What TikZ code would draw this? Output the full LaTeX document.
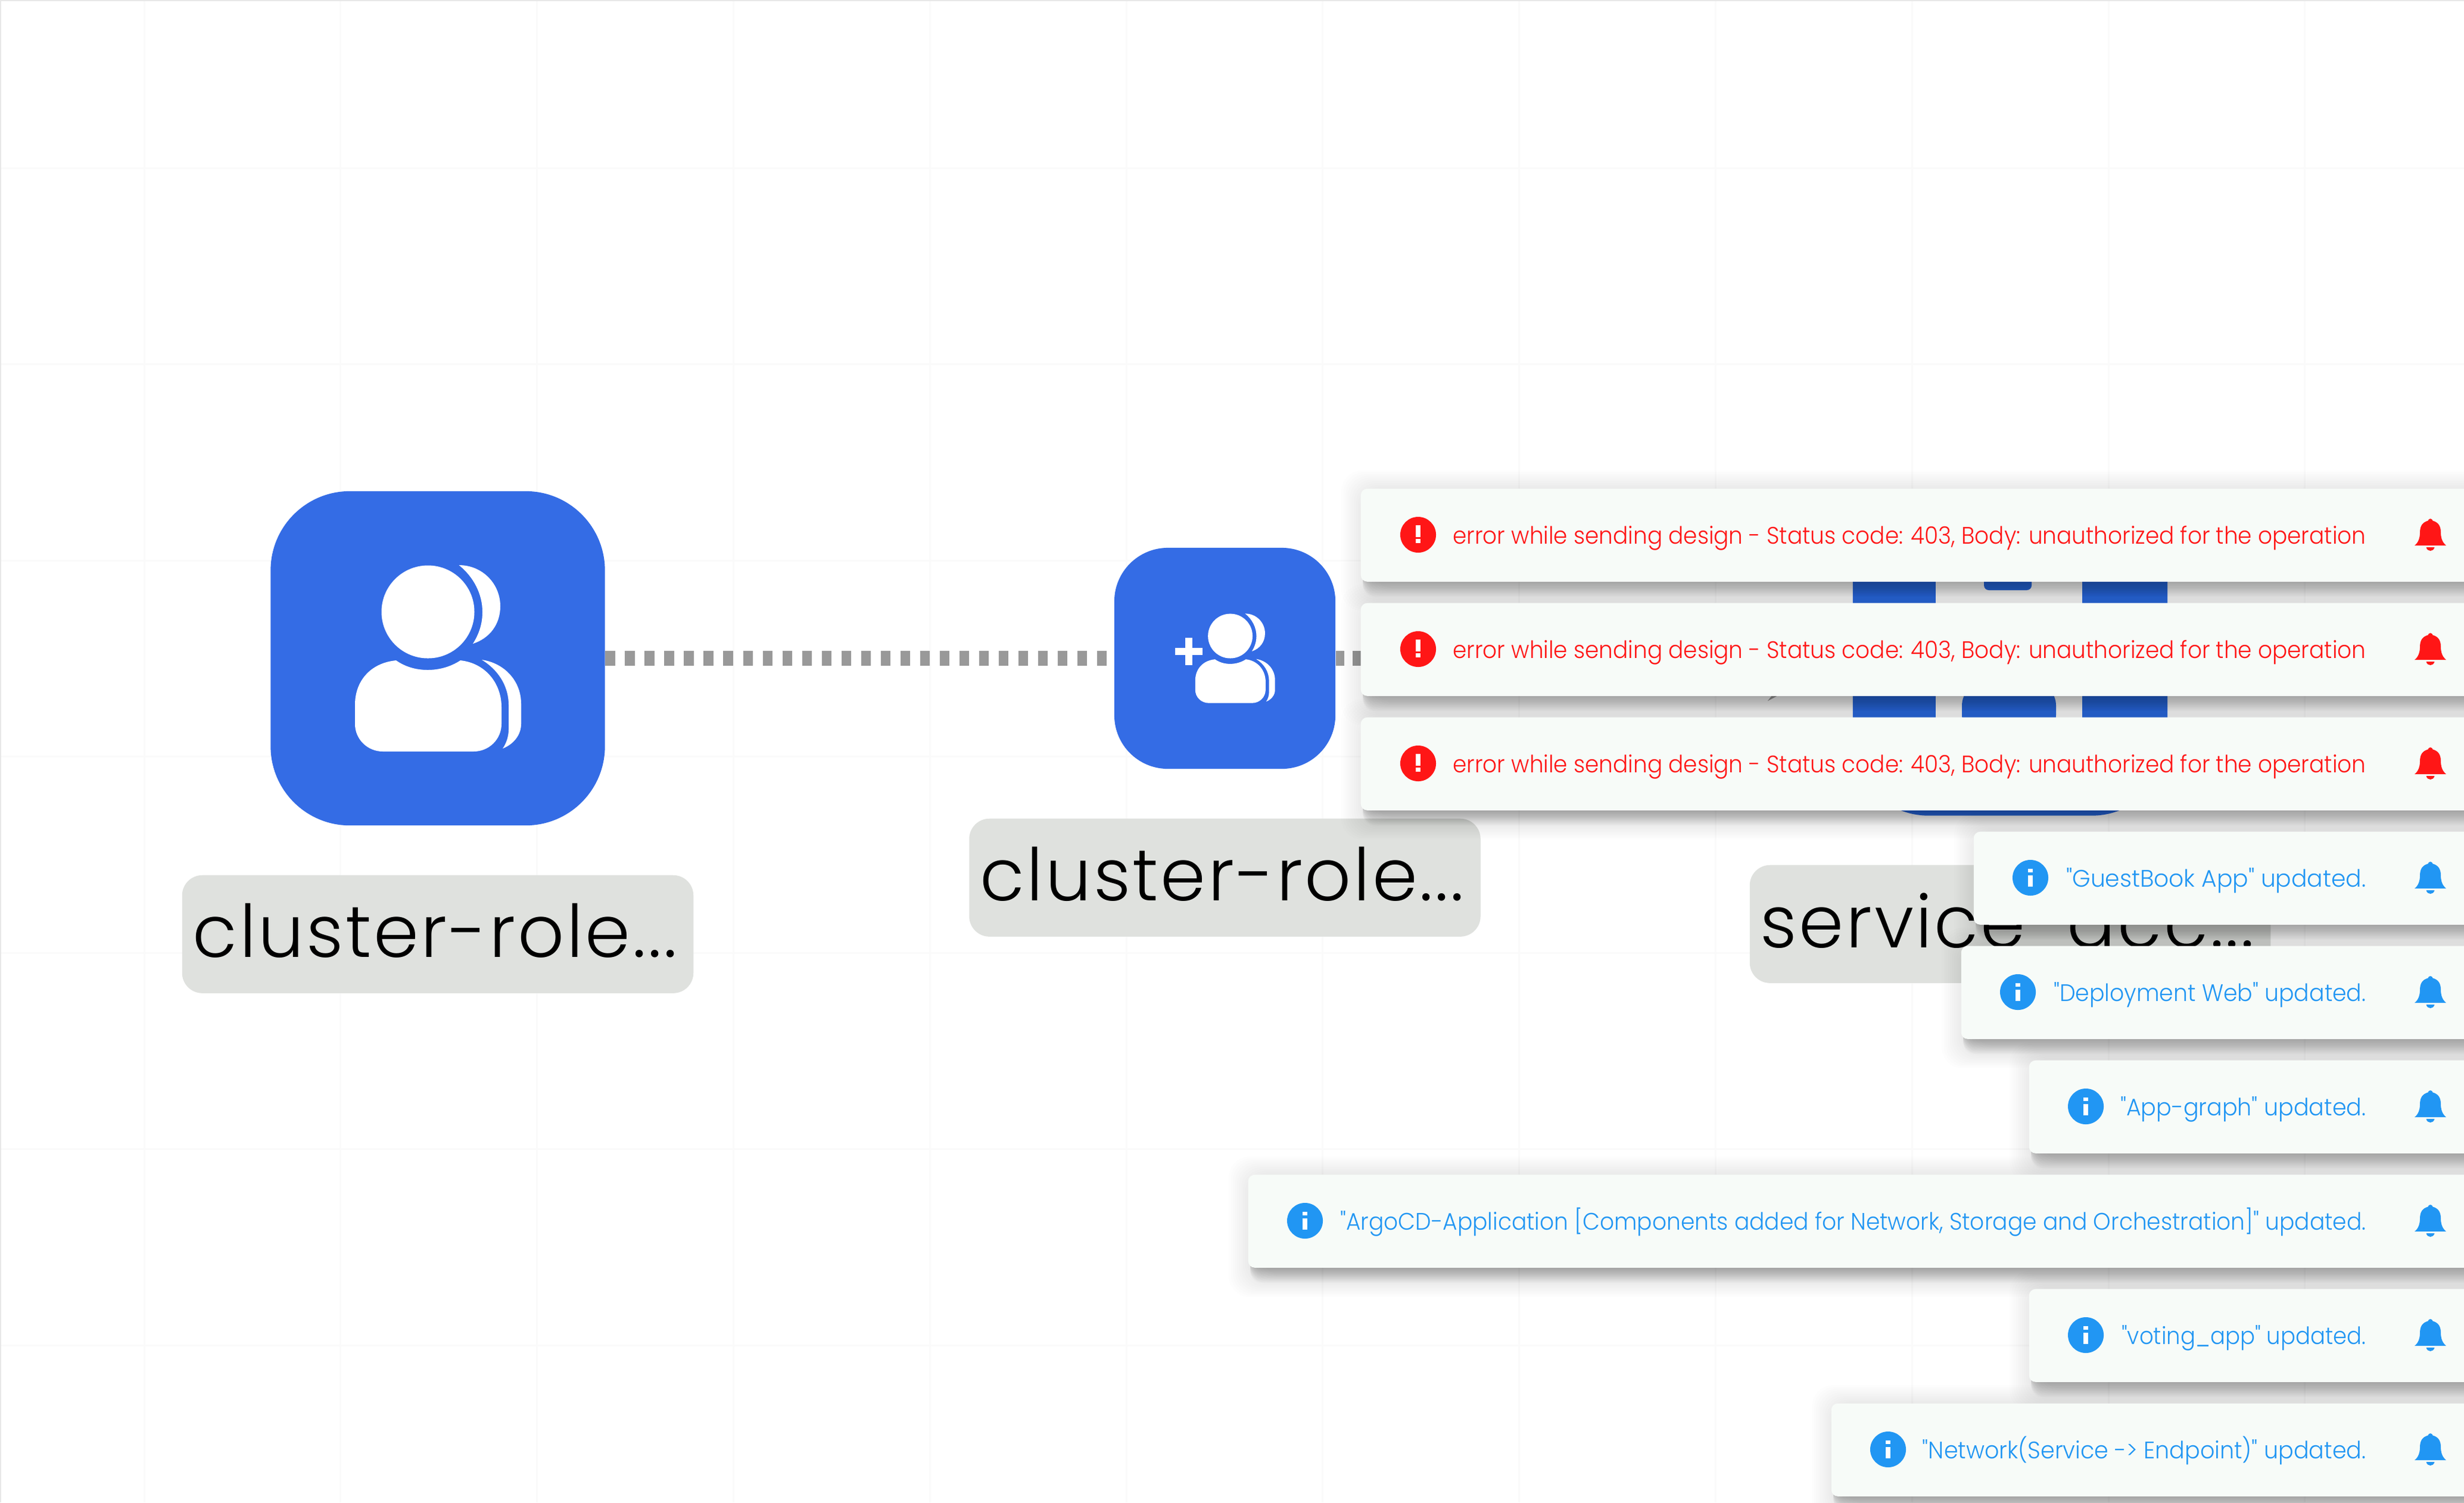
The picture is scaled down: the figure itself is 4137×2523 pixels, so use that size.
\documentclass[tikz,border=0pt]{standalone}
\usepackage{graphicx}
\usepackage{fontspec}
\newfontfamily\toastfam[Ligatures=Common]{Poppins Light}
\newfontfamily\lblfont[LetterSpace=3]{Poppins Light}
\definecolor{nodeblue}{HTML}{346CE5}
\definecolor{lblgrey}{HTML}{DFE1DE}
\definecolor{toastbg}{HTML}{F7FBF8}
\definecolor{errred}{HTML}{FF1616}
\definecolor{infoblue}{HTML}{2196F3}
\definecolor{linegrey}{HTML}{999999}
\definecolor{gridgrey}{HTML}{FAFAFA}
\definecolor{edgegrey}{HTML}{E8E8E8}
\newsavebox\fitbox
\newcommand\fitwidth[3]{\sbox\fitbox{#2#3}\pgfmathsetmacro\sxf{#1*0.2845274/\wd\fitbox}\scalebox{\sxf}[1]{\usebox\fitbox}}
\newcommand\toastfont{\toastfam\fontsize{11.4pt}{14pt}\selectfont}
\newcommand\labelfontsize{\lblfont\fontsize{34.7pt}{40pt}\selectfont}
\tikzset{
  noderound/.style={fill=nodeblue,draw=none,inner sep=0pt,rectangle},
  lblbox/.style={fill=lblgrey,draw=none,rectangle,rounded corners=.34cm,minimum width=8.58cm,minimum height=1.98cm,inner sep=0pt,anchor=north},
  lbltext/.style={anchor=base west,inner sep=0pt,text=black},
  toastbox/.style={fill=toastbg,draw=none,rectangle,rounded corners=.11cm,minimum height=1.56cm,inner sep=0pt,anchor=north west},
  toasttext/.style={anchor=base east,inner sep=0pt},
  statusdot/.style={circle,minimum size=.6cm,inner sep=0pt,draw=none},
  dotsone/.style={draw=linegrey,line width=.25cm,dash pattern=on .165cm off .165cm},
  dotstwo/.style={draw=linegrey,line width=.25cm,dash pattern=on .14cm off .14cm},
  person/.pic={
    \fill[white] (-16.5,-78) circle[radius=78];
    \fill[white] (35.5,-156.5) .. controls (75,-156.5) and (105,-125) .. (105,-87.5) .. controls (105,-58) and (88,-34) .. (59,-24.5) .. controls (70,-42) and (75,-59) .. (75,-78) .. controls (75,-108) and (60,-137) .. (35.5,-156.5) -- cycle;
    \fill[white] (-70,3.5) .. controls (-115,8) and (-139,40) .. (-139,78) -- (-139,110) .. controls (-139,136) and (-118,156.5) .. (-92,156.5) -- (60,156.5) .. controls (86,156.5) and (107,136) .. (107,110) -- (107,82) .. controls (107,42) and (80,8) .. (38,3.5) .. controls (22,14) and (3,19.5) .. (-17,19.5) .. controls (-37,19.5) and (-55,14) .. (-70,3.5) -- cycle;
    \fill[white] (74,2.5) .. controls (112,8) and (140,38) .. (140,76.5) -- (140,110) .. controls (140,128) and (128,144) .. (109,151.5) .. controls (115,143) and (119,131) .. (119,119.5) -- (119,78.5) .. controls (119,46) and (101,19) .. (74,2.5) -- cycle;
  },
  bell/.pic={
    \fill (-26.5,45) .. controls (-20,40) and (-17.5,32) .. (-17.5,23) .. controls (-17.5,12) and (-13,6) .. (-4,3.5) .. controls (-3,-1) and (3,-1) .. (4,3.5) .. controls (13,6) and (17.5,12) .. (17.5,23) .. controls (17.5,32) and (20,40) .. (26.5,45) -- cycle;
    \fill (-7,48) .. controls (-6,52) and (-3,54) .. (0,54) .. controls (3,54) and (6,52) .. (7,48) -- cycle;
  }
}
\newcommand\toastshadow[2]{%
  \foreach \i in {0,...,12}{
    \fill[black,opacity=.019,rounded corners=.2cm] ({#1-2+14*\i/12*0+6},{#2+30}) rectangle (4300,{#2+156+26*\i/12});
  }
  \foreach \i in {0,...,15}{
    \fill[black,opacity=.0065,rounded corners=.35cm] ({#1+20-52*\i/15},{#2+15-45*\i/15}) rectangle (4300,{#2+156+12+38*\i/15});
  }
}
% name, left, top, width of text, text
\newcommand\errtoast[5]{%
  \node[toastbox,minimum width={(4300-#2)*0.01cm}] (#1) at (#2,#3) {};
  \node[statusdot,fill=errred] (#1dot) at ({#2+97},{#3+78}) {};
  \fill[white] ({#2+93},{#3+62}) rectangle ({#2+101},{#3+82});
  \fill[white] ({#2+93},{#3+85}) rectangle ({#2+101},{#3+92});
  \node[toasttext,text=errred] (#1text) at (3973,{#3+93}) {\fitwidth{#4}{\toastfont}{#5}};
  \pic[errred] at (4080.5,{#3+51}) {bell};
}
\newcommand\infotoast[5]{%
  \node[toastbox,minimum width={(4300-#2)*0.01cm}] (#1) at (#2,#3) {};
  \node[statusdot,fill=infoblue] (#1dot) at ({#2+96},{#3+78}) {};
  \fill[white] ({#2+92},{#3+63}) rectangle ({#2+100},{#3+69});
  \fill[white] ({#2+92},{#3+74}) rectangle ({#2+100},{#3+93});
  \node[toasttext,text=infoblue] (#1text) at (3973,{#3+93}) {\fitwidth{#4}{\toastfont}{#5}};
  \pic[infoblue] at (4080.5,{#3+51}) {bell};
}
\begin{document}
\begin{tikzpicture}[x=0.01cm,y=-0.01cm]
\useasboundingbox (0,0) rectangle (4137,2523);
\clip (0,0) rectangle (4137,2523);
\fill[white] (0,0) rectangle (4137,2523);
% grid
\foreach \k in {0,...,11}{ \draw[gridgrey,line width=.03cm] ({242+329.8*\k},0) -- ({242+329.8*\k},2523); }
\foreach \k in {0,...,6}{ \draw[gridgrey,line width=.03cm] (0,{282+329.5*\k}) -- (4137,{282+329.5*\k}); }
\draw[edgegrey,line width=.02cm] (1,2523) -- (1,1) -- (4137,1);
% nodes
\node[noderound,minimum size=5.61cm,rounded corners=1.33cm] (big) at (735,1105.5) {};
\node[noderound,minimum size=3.71cm,rounded corners=.9cm] (small) at (2056.5,1105.5) {};
\node[noderound,minimum size=5.28cm,rounded corners=1.27cm] (service) at (3375,1105.5) {};
% connectors
\draw[dotsone] (big.east) -- (small.west);
\draw[dotstwo] (small.east) -- (service.west);
\fill[linegrey] (2968,1177) -- (2989,1150) -- (3019,1150) -- cycle;
% icons
\pic at (735,1105.5) {person};
\pic[scale=.48] at (2073.5,1105.5) {person};
\fill[white] (1973,1088) rectangle (2019,1100);
\fill[white] (1990,1071) rectangle (2002,1117);
% service icon remains
\fill[white] (3250,960) rectangle (3496,1220);
\fill[nodeblue,rounded corners=.08cm] (3331,950) rectangle (3411,991);
\fill[nodeblue,rounded corners=.4cm] (3294,1145) rectangle (3452,1240);
% labels
\node[lblbox] (lblA) at (735,1469) {};
\node[lblbox] (lblB) at (2056.5,1374) {};
\node[lblbox,minimum width=8.74cm] (lblC) at (3375,1452) {};
\node[lbltext] (txtA) at (323,1607) {\fitwidth{812}{\labelfontsize}{cluster-role...}};
\node[lbltext] (txtB) at (1644.5,1512) {\fitwidth{812}{\labelfontsize}{cluster-role...}};
\node[lbltext] (txtC) at (2955,1591) {\fitwidth{828}{\labelfontsize}{service-acc...}};
% shadows
\toastshadow{2284}{820}
\toastshadow{2284}{1012}
\toastshadow{2284}{1204}
\toastshadow{3313}{1396}
\toastshadow{3292}{1588}
\toastshadow{3406}{1780}
\toastshadow{2095}{1972}
\toastshadow{3406}{2164}
\toastshadow{3074}{2356}
% toasts
\errtoast{tA}{2284}{820}{1532}{error while sending design - Status code: 403, Body: unauthorized for the operation}
\errtoast{tB}{2284}{1012}{1532}{error while sending design - Status code: 403, Body: unauthorized for the operation}
\errtoast{tC}{2284}{1204}{1532}{error while sending design - Status code: 403, Body: unauthorized for the operation}
\infotoast{tD}{3313}{1396}{503}{"GuestBook App" updated.}
\infotoast{tE}{3292}{1588}{524}{"Deployment Web" updated.}
\infotoast{tF}{3406}{1780}{412}{"App-graph" updated.}
\infotoast{tG}{2095}{1972}{1721}{"ArgoCD-Application [Components added for Network, Storage and Orchestration]" updated.}
\infotoast{tH}{3406}{2164}{410}{"voting\_app" updated.}
\infotoast{tI}{3074}{2356}{744}{"Network(Service -> Endpoint)" updated.}
\end{tikzpicture}
\end{document}
